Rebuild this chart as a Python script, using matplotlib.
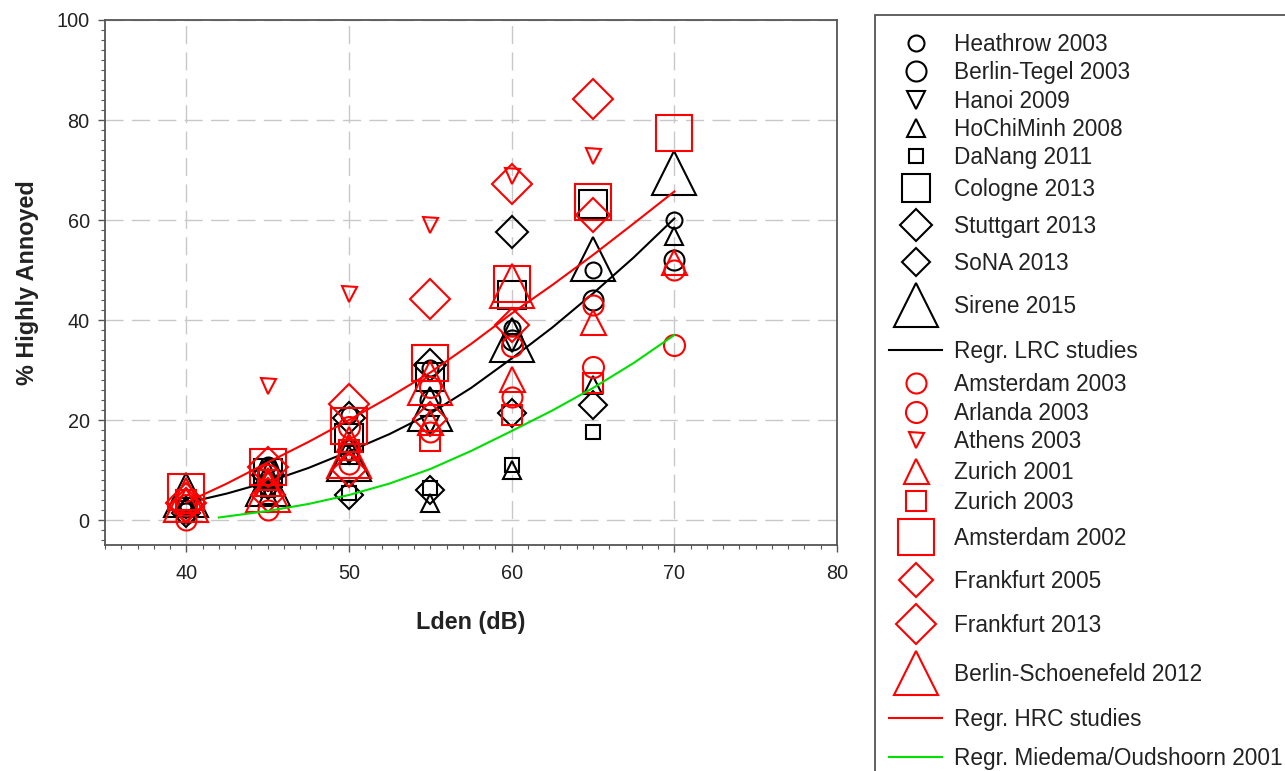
import numpy as np
import matplotlib
matplotlib.use("Agg")
import matplotlib.pyplot as plt
from matplotlib.lines import Line2D
from matplotlib.legend_handler import HandlerLine2D
from matplotlib.ticker import MultipleLocator

plt.rcParams['font.family'] = ['Liberation Sans', 'DejaVu Sans']

nan = np.nan

# noise levels where the study points sit
lden = [40, 45, 50, 55, 60, 65, 70]

# low response correction studies (black)
heathrow_2003 = [nan, 11, 21, 30.5, 38.5, 50, 60]
berlin_tegel_2003 = [1.5, 10, 14, 24, 36, 44, 52]
hanoi_2009 = [2, 6, 13, 19, 35.5, nan, nan]
hochiminh_2008 = [3, 5, 13, 3.5, 10, 27, 56.7]
danang_2011 = [3, 6, 5.5, 6.5, 11, 17.7, nan]
cologne_2013 = [nan, 9.4, 16.5, 28.7, 45, 63.2, nan]
stuttgart_2013 = [nan, 9, 20.5, 31, 57.5, nan, nan]
sona_2013 = [1.5, 7, 5, 6, 21.5, 23, nan]
sirene_2015 = [5, 7.3, 12.3, 22.2, 36.1, 52.2, 69.3]

# high response correction studies (red)
amsterdam_2003 = [0, 2, 11.3, 17.7, 24.7, 43, 50]
arlanda_2003 = [3, 9, 18.7, 26.7, 34.7, 30.7, 35]
athens_2003 = [nan, 26.8, 45.1, 59, 68.7, 72.7, nan]
zurich_2001 = [4, 7.5, 16.3, 19.7, 28.2, 39.6, 51.6]
zurich_2003 = [4, 8, 14, 15.9, 21, 27.5, nan]
amsterdam_2002 = [5.7, 10.7, 18.9, 31.5, 47.1, 63.5, 77.3]
frankfurt_2005 = [3, 5.1, 10, 20.2, 39, 61, nan]
frankfurt_2013 = [3.5, 10.6, 23.3, 44.2, 67.2, 84.1, nan]
berlin_schoenefeld_2012 = [4, 6, 12.9, 27.5, 46.9, nan, nan]

# regression curves
regr_x = [40, 42.5, 45, 47.5, 50, 52.5, 55, 57.5, 60, 62.5, 65, 67.5, 70]
lrc_y = [3.4, 5.3, 7.6, 10.4, 13.7, 17.2, 21.3, 26.4, 32.3, 38.5, 45.3, 52.5, 60.3]
hrc_y = [3.5, 7.3, 11.5, 15.6, 20, 24.6, 29.5, 35.2, 41.3, 47, 53, 59.3, 65.7]
miedema_x = [42, 45, 47.5, 50, 52.5, 55, 57.5, 60, 62.5, 65, 67.5, 70]
miedema_y = [0.5, 1.8, 3.2, 5.0, 7.3, 10.2, 13.8, 17.8, 21.9, 26.4, 31.4, 37]

RED = '#ff0000'
BLACK = '#000000'
GREEN = '#00e000'

# label, values, marker, size (pt)
lrc_studies = [
    ("Heathrow 2003", heathrow_2003, 'o', 11.5),
    ("Berlin-Tegel 2003", berlin_tegel_2003, 'o', 14.4),
    ("Hanoi 2009", hanoi_2009, 'v', 13),
    ("HoChiMinh 2008", hochiminh_2008, '^', 13),
    ("DaNang 2011", danang_2011, 's', 9.4),
    ("Cologne 2013", cologne_2013, 's', 20),
    ("Stuttgart 2013", stuttgart_2013, 'D', 15.8),
    ("SoNA 2013", sona_2013, 'D', 14.3),
    ("Sirene 2015", sirene_2015, '^', 31),
]
hrc_studies = [
    ("Amsterdam 2003", amsterdam_2003, 'o', 14.4),
    ("Arlanda 2003", arlanda_2003, 'o', 15.1),
    ("Athens 2003", athens_2003, 'v', 10.8),
    ("Zurich 2001", zurich_2001, '^', 18),
    ("Zurich 2003", zurich_2003, 's', 14.4),
    ("Amsterdam 2002", amsterdam_2002, 's', 26),
    ("Frankfurt 2005", frankfurt_2005, 'D', 17.3),
    ("Frankfurt 2013", frankfurt_2013, 'D', 20.4),
    ("Berlin-Schoenefeld 2012", berlin_schoenefeld_2012, '^', 31),
]


class RowHandler(HandlerLine2D):
    """legend rows that grow with the marker size"""
    def legend_artist(self, legend, orig_handle, fontsize, handlebox):
        m = orig_handle.get_marker()
        if m in (None, 'None', 'none', ''):
            size = 27.5
        else:
            size = orig_handle.get_markersize() * (1.414 if m == 'D' else 1.0) + 5
        size = max(size, 20)
        handlebox.height = size
        handlebox.ydescent = size / 2 - 0.358 * fontsize
        return super().legend_artist(legend, orig_handle, fontsize, handlebox)

    def create_artists(self, legend, orig_handle, xdescent, ydescent,
                       width, height, fontsize, trans):
        arts = super().create_artists(legend, orig_handle, xdescent, ydescent,
                                      width, height, fontsize, trans)
        for a in arts:
            a.set_ydata(np.full(len(a.get_xdata()), 0.358 * fontsize))
        return arts


fig = plt.figure(figsize=(12.85, 7.71), dpi=100)
ax = fig.add_axes([105 / 1285, 1 - 545 / 771, (837 - 105) / 1285, (545 - 20) / 771])

handles = []
for label, vals, mk, ms in lrc_studies:
    h, = ax.plot(lden, vals, linestyle='none', marker=mk, markersize=ms,
                 markerfacecolor='none', markeredgecolor=BLACK, markeredgewidth=1.5,
                 label=label)
    handles.append(h)
h, = ax.plot(regr_x, lrc_y, color=BLACK, lw=1.5, label="Regr. LRC studies")
handles.append(h)
for label, vals, mk, ms in hrc_studies:
    h, = ax.plot(lden, vals, linestyle='none', marker=mk, markersize=ms,
                 markerfacecolor='none', markeredgecolor=RED, markeredgewidth=1.5,
                 label=label)
    handles.append(h)
h, = ax.plot(regr_x, hrc_y, color=RED, lw=1.5, label="Regr. HRC studies")
handles.append(h)
h, = ax.plot(miedema_x, miedema_y, color=GREEN, lw=1.5, label="Regr. Miedema/Oudshoorn 2001")
handles.append(h)

ax.set_xlim(35, 80)
ax.set_ylim(-5, 100)
ax.xaxis.set_major_locator(MultipleLocator(10))
ax.xaxis.set_minor_locator(MultipleLocator(1))
ax.yaxis.set_major_locator(MultipleLocator(20))
ax.yaxis.set_minor_locator(MultipleLocator(2))
ax.set_xticks([40, 50, 60, 70, 80])

ax.grid(True, which='major', color='#c8c8c8', lw=1.0, linestyle=(0, (13, 6)))
ax.set_axisbelow(True)
for s in ax.spines.values():
    s.set_color('#555555')
    s.set_linewidth(1.3)
ax.tick_params(which='both', direction='out', color='#555555', labelcolor='#222222',
               top=False, right=False)
ax.tick_params(which='major', length=5, width=1.0, labelsize=14.3)
ax.tick_params(which='minor', length=3, width=0.8)
ax.tick_params(axis='x', which='major', pad=9)
ax.tick_params(axis='y', which='major', pad=6)

ax.set_xlabel("Lden (dB)", fontsize=16.8, fontweight='bold', labelpad=20, color='#222222')
ax.set_ylabel("% Highly Annoyed", fontsize=16.8, fontweight='bold', labelpad=13, color='#222222')

leg = fig.legend(handles=handles, loc='upper left',
                 bbox_to_anchor=(875 / 1285, 1 - 15 / 771), borderaxespad=0,
                 fontsize=16.3, numpoints=1, handlelength=2.34, handletextpad=0.53,
                 borderpad=0.62, labelspacing=0.025, fancybox=False, framealpha=1,
                 edgecolor='#555555', handler_map={Line2D: RowHandler()})
leg.get_frame().set_linewidth(1.3)
for t in leg.get_texts():
    t.set_color('#222222')

fig.savefig("out.png", dpi=100)
